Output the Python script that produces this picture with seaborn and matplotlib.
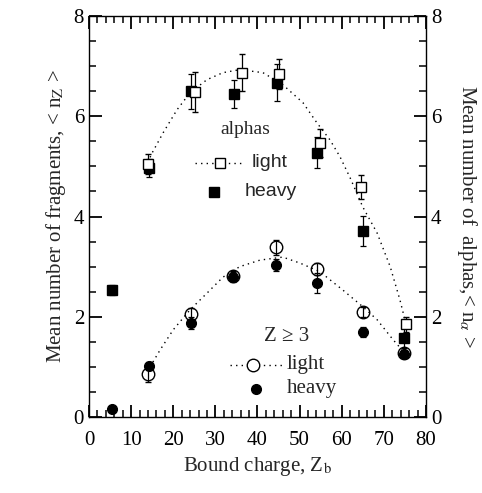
import numpy as np
import pandas as pd
import matplotlib
matplotlib.use("Agg")
import matplotlib.pyplot as plt
import seaborn as sns
from matplotlib.ticker import MultipleLocator

# alphas, light (open squares)
alpha_light_x = [14.0, 25.2, 36.3, 45.1, 54.8, 64.6, 75.2]
alpha_light_y = [5.05, 6.49, 6.87, 6.85, 5.47, 4.59, 1.85]
alpha_light_err = [0.2, 0.4, 0.37, 0.3, 0.28, 0.24, 0.15]

# alphas, heavy (filled squares)
alpha_heavy_x = [5.5, 14.2, 24.2, 34.4, 44.6, 54.1, 65.0, 74.8]
alpha_heavy_y = [2.53, 4.97, 6.50, 6.45, 6.67, 5.27, 3.71, 1.58]
alpha_heavy_err = [0.1, 0.18, 0.35, 0.28, 0.37, 0.31, 0.3, 0.2]

# Z >= 3, light (open circles)
frag_light_x = [14.0, 24.2, 34.2, 44.4, 54.1, 65.0, 74.8]
frag_light_y = [0.85, 2.05, 2.81, 3.39, 2.95, 2.10, 1.28]
frag_light_err = [0.15, 0.12, 0.1, 0.15, 0.12, 0.1, 0.05]

# Z >= 3, heavy (filled circles)
frag_heavy_x = [5.5, 14.2, 24.2, 34.2, 44.4, 54.1, 65.0, 74.8]
frag_heavy_y = [0.16, 1.01, 1.87, 2.80, 3.03, 2.67, 1.69, 1.25]
frag_heavy_err = [0.0, 0.08, 0.12, 0.1, 0.12, 0.2, 0.1, 0.05]

# dotted fit curves
alpha_fit_x = [14.5, 15.0, 17.6, 20.9, 24.0, 28.0, 31.8, 35.8, 41.3, 46.0, 50.8,
               54.1, 57.2, 59.6, 62.0, 65.0, 68.4, 71.5, 73.8, 75.0]
alpha_fit_y = [5.18, 5.27, 5.67, 6.13, 6.47, 6.73, 6.87, 6.93, 6.87, 6.63, 6.27,
               5.87, 5.53, 5.19, 4.77, 4.19, 3.67, 3.00, 2.34, 1.94]
frag_fit_x = [14.5, 16.9, 20.0, 24.0, 28.0, 31.8, 35.8, 40.6, 46.0, 50.1,
              54.8, 60.3, 65.0, 68.4, 72.2, 74.3]
frag_fit_y = [1.00, 1.34, 1.74, 2.14, 2.47, 2.79, 3.00, 3.13, 3.19, 3.07,
              2.90, 2.53, 2.20, 1.94, 1.54, 1.34]

sns.set_theme(style="ticks")
plt.rcParams["font.family"] = ["Liberation Serif", "DejaVu Serif"]
plt.rcParams["mathtext.fontset"] = "stix"

fig = plt.figure(figsize=(4.82, 4.93), dpi=100)
ax = fig.add_axes([0.1846, 0.1542, 0.6992, 0.8133])

# fit curves
sns.lineplot(x=alpha_fit_x, y=alpha_fit_y, ax=ax, color="black", lw=1.0,
             linestyle=(0, (1, 3)), sort=False)
sns.lineplot(x=frag_fit_x, y=frag_fit_y, ax=ax, color="black", lw=1.0,
             linestyle=(0, (1, 3)), sort=False)

eb = dict(ecolor="black", elinewidth=0.9, capsize=2.5, capthick=0.9, linestyle="none")
ax.errorbar(alpha_heavy_x, alpha_heavy_y, yerr=alpha_heavy_err, marker="s", ms=7,
            mfc="black", mec="black", **eb)
ax.errorbar(alpha_light_x, alpha_light_y, yerr=alpha_light_err, marker="s", ms=7.5,
            mfc="white", mec="black", mew=1.0, **eb)
ax.errorbar(frag_light_x, frag_light_y, yerr=frag_light_err, marker="o", ms=9,
            mfc="none", mec="black", mew=1.0, **eb)
ax.errorbar(frag_heavy_x, frag_heavy_y, yerr=frag_heavy_err, marker="o", ms=7,
            mfc="black", mec="black", **eb)

ax.set_xlim(0, 80)
ax.set_ylim(0, 8)
ax.xaxis.set_major_locator(MultipleLocator(10))
ax.xaxis.set_minor_locator(MultipleLocator(2))
ax.yaxis.set_major_locator(MultipleLocator(2))
ax.yaxis.set_minor_locator(MultipleLocator(0.5))
ax.tick_params(which="both", direction="in", top=True, right=True,
               labelright=True, colors="black", labelsize=15)
ax.tick_params(which="major", length=9, width=1.3)
ax.tick_params(which="minor", length=5, width=1.1)
ax.tick_params(axis="x", which="major", pad=10)
for s in ax.spines.values():
    s.set_linewidth(1.0)
    s.set_color("black")

ax.set_xlabel("Bound charge, Z$_\\mathrm{b}$", fontsize=15, labelpad=4)
ax.set_ylabel("Mean number of fragments, < n$_\\mathrm{Z}$ >", fontsize=15, labelpad=4)
ax.text(1.085, 0.5, "Mean number of  alphas,< n$_\\alpha$ >", fontsize=15,
        rotation=-90, ha="left", va="center", transform=ax.transAxes)

# legend for alphas (sans-serif)
sans = ["Liberation Sans", "DejaVu Sans"]
ax.text(37.0, 5.73, "alphas", fontsize=14, ha="center", va="center")
ax.plot([25.2, 36.5], [5.07, 5.07], color="black", lw=1.0, linestyle=(0, (1, 3)))
ax.plot([31.0], [5.07], marker="s", ms=7, mfc="white", mec="black", linestyle="none")
ax.text(38.5, 5.07, "light", fontsize=14, va="center", family=sans)
ax.plot([29.6], [4.49], marker="s", ms=7, color="black", linestyle="none")
ax.text(37.0, 4.49, "heavy", fontsize=14, va="center", family=sans)

# legend for Z >= 3
ax.text(47.0, 1.60, "Z ≥ 3", fontsize=15, ha="center", va="center")
ax.plot([33.5, 46.5], [1.04, 1.04], color="black", lw=1.0, linestyle=(0, (1, 3)))
ax.plot([39.0], [1.04], marker="o", ms=9, mfc="white", mec="black", linestyle="none")
ax.text(47.0, 1.04, "light", fontsize=15, va="center")
ax.plot([39.6], [0.56], marker="o", ms=7, color="black", linestyle="none")
ax.text(47.0, 0.56, "heavy", fontsize=15, va="center")

fig.savefig("out.png", dpi=100)
